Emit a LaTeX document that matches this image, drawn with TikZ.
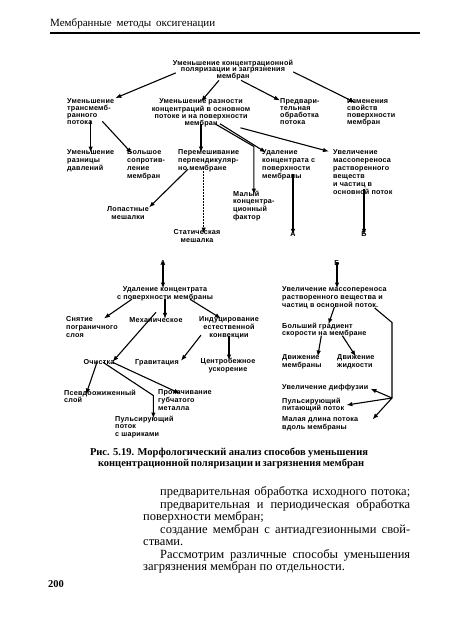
\documentclass[tikz,border=0pt]{standalone}
\usepackage{fontspec}
\setmainfont{Liberation Serif}
\newfontfamily\dfont[LetterSpace=3]{Liberation Sans Bold}
\usetikzlibrary{arrows.meta}
\begin{document}
\begin{tikzpicture}[x=1pt,y=-1pt,
  lbl/.style={inner sep=0pt, align=left, anchor=north west, font={\dfont\fontsize{7.2}{7.9}\selectfont}},
  lblc/.style={lbl, align=center, anchor=north},
  one/.style={lbl, align=center, anchor=base},
  tight/.style={font={\dfont\fontsize{7.2}{6.8}\selectfont}},
  arr/.style={line width=1.1pt, -{Latex[length=6pt,width=4.5pt]}},
  body/.style={inner sep=0pt, anchor=base west, font=\fontsize{12.5}{12.5}\selectfont},
  capt/.style={inner sep=0pt, anchor=base, font=\bfseries\fontsize{10.5}{11}\selectfont}]
\useasboundingbox (0,0) rectangle (450,626);
\fill[white] (0,0) rectangle (450,626);
% header
\node[body, font=\fontsize{11}{13}\selectfont] (hdr) at (50,27) {\makebox[165pt][s]{Мембранные методы оксигенации}};
\draw[line width=1.4pt] (50,33) -- (420,33);
% level 1
\node[lblc, tight] (top) at (233,59.5) {Уменьшение концентрационной\\поляризации и загрязнения\\мембран};
% level 2
\node[lbl, tight] (r2a) at (67,98.5) {Уменьшение\\трансмемб-\\ранного\\потока};
\node[lblc, tight] (r2b) at (201,98.5) {Уменьшение разности\\концентраций в основном\\потоке и на поверхности\\мембран};
\node[lbl, tight] (r2c) at (280,98.5) {Предвари-\\тельная\\обработка\\потока};
\node[lbl, tight] (r2d) at (347,98.5) {Изменения\\свойств\\поверхности\\мембран};
% level 3
\node[lbl] (r3a) at (67,149.5) {Уменьшение\\разницы\\давлений};
\node[lbl] (r3b) at (127,149.5) {Большое\\сопротив-\\ление\\мембран};
\node[lbl] (r3c) at (178,149.5) {Перемешивание\\перпендикуляр-\\но мембране};
\node[lbl] (r3d) at (262,149.5) {Удаление\\концентрата с\\поверхности\\мембраны};
\node[lbl] (r3e) at (333,149.5) {Увеличение\\массопереноса\\растворенного\\веществ\\и частиц в\\основной поток};
\node[lbl] (small) at (233,190.5) {Малый\\концентра-\\ционный\\фактор};
\node[lblc] (lop) at (128,206.5) {Лопастные\\мешалки};
\node[lblc] (stat) at (197,229.5) {Статическая\\мешалка};
\node[one] (A1) at (293,236) {А};
\node[one] (B1) at (364,236) {Б};
% lower left
\node[one] (A2) at (163,265) {А};
\node[lblc] (ud) at (165,286.5) {Удаление концентрата\\с поверхности мембраны};
\node[lbl] (snat) at (66,316.5) {Снятие\\пограничного\\слоя};
\node[one] (mech) at (156,322) {Механическое};
\node[lblc] (ind) at (229,316.5) {Индуцирование\\естественной\\конвекции};
\node[one] (och) at (99,364) {Очистка};
\node[one] (grav) at (157,364) {Гравитация};
\node[lblc] (centr) at (228,358.5) {Центробежное\\ускорение};
\node[lbl] (psev) at (64,389.5) {Псевдоожиженный\\слой};
\node[lbl] (prok) at (158,389.5) {Прокачивание\\губчатого\\металла};
\node[lbl] (puls) at (115,415.5) {Пульсирующий\\поток\\с шариками};
% lower right
\node[one] (B2) at (337,265) {Б};
\node[lbl] (uvm) at (282,286.5) {Увеличение массопереноса\\растворенного вещества и\\частиц в основной поток.};
\node[lbl] (bg) at (282,322.5) {Больший градиент\\скорости на мембране};
\node[lbl] (dm) at (282,354.5) {Движение\\мембраны};
\node[lbl] (dz) at (337,354.5) {Движение\\жидкости};
\node[one, anchor=base west] (udif) at (282,389) {Увеличение диффузии};
\node[lbl] (pp) at (282,397.5) {Пульсирующий\\питающий поток};
\node[lbl] (ml) at (282,416.5) {Малая длина потока\\вдоль мембраны};
\coordinate (hub) at (392,398);
% connectors level 1 -> 2
\draw[arr, shorten >=1pt] ([xshift=3pt,yshift=-3pt]top.west) -- (r2a.north east);
\draw[arr] ([xshift=-14pt]top.south) -- ([yshift=-3pt]r2b.north);
\draw[arr] ([xshift=8pt]top.south) -- ([yshift=-2pt]r2c.north west);
\draw[arr] ([yshift=-2pt]top.east) -- ([xshift=8pt,yshift=-4pt]r2d.north west);
% level 2 -> 3
\draw[arr] ([yshift=3pt]r2a.south) -- ([yshift=-3pt]r2a.south |- r3a.north);
\draw[arr] ([xshift=-12pt,yshift=3pt]r2a.south east) -- ([xshift=5pt,yshift=-4pt]r3b.north west);
\draw[arr] ([yshift=3pt]r2b.south) -- ([yshift=-3pt]r2b.south |- r3c.north);
\draw[arr] ([xshift=14pt,yshift=3pt]r2b.south) -- ([yshift=3pt]small.north |- r3c.north) -- ([yshift=-4pt]small.north);
\draw[arr] ([xshift=19pt,yshift=3pt]r2b.south) -- ([xshift=4pt,yshift=-3pt]r3d.north west);
\draw[arr] ([xshift=-10pt,yshift=-1pt]r2b.south east) -- ([xshift=-4pt,yshift=-2pt]r3e.north west);
% level 3 -> 4
\draw[arr] ([xshift=10pt,yshift=3pt]r3c.south west) -- ([yshift=-1pt]lop.north east);
\draw[arr, dash pattern=on 2pt off 1pt] ([xshift=-5pt,yshift=4pt]r3c.south) -- ([xshift=-5pt,yshift=-4pt]r3c.south |- stat.north);
\draw[arr] ([yshift=6pt]A1.north |- r3d.south) -- ([yshift=-4pt]A1.north);
\draw[arr] ([yshift=5pt]B1.north |- r3e.south) -- ([yshift=-4pt]B1.north);
% lower left
\draw[arr] ([yshift=3pt]A2.south) -- ([yshift=-2pt]A2.south |- ud.north);
\draw[arr] ([xshift=15pt,yshift=2pt]ud.south west) -- ([xshift=-14pt,yshift=-2pt]snat.north east);
\draw[arr] ([yshift=2pt]ud.south) -- ([yshift=-2pt]ud.south |- mech.north);
\draw[arr] ([xshift=25pt,yshift=2pt]ud.south) -- ([xshift=-8pt,yshift=-2pt]ind.north);
\draw[arr] ([yshift=10pt]mech.south) -- ([xshift=-2pt,yshift=-3pt]och.north east);
\draw[arr] ([xshift=2pt,yshift=4pt]ind.south west) -- ([xshift=2pt,yshift=-2pt]grav.north east);
\draw[arr] ([yshift=3pt]ind.south) -- ([yshift=-2pt]ind.south |- centr.north);
\draw[arr] ([xshift=-2pt,yshift=2pt]och.south) -- ([xshift=22pt,yshift=-5pt]psev.north west);
\draw[arr] ([xshift=4pt,yshift=2pt]och.south) -- ([xshift=9pt,yshift=-6pt]puls.north |- prok.north) -- ([xshift=9pt,yshift=-3pt]puls.north);
\draw[arr] ([xshift=-2pt,yshift=2pt]och.south east) -- ([xshift=22pt,yshift=-4pt]prok.north west);
% lower right
\draw[arr] ([yshift=3pt]B2.south) -- ([yshift=-2pt]B2.south |- uvm.north);
\draw[arr] ([yshift=2pt]uvm.south) -- ([xshift=4pt,yshift=-2pt]bg.north);
\draw[line width=1.1pt] ([xshift=-12pt,yshift=1pt]uvm.south east) -- (hub |- bg.north) -- (hub);
\draw[arr] (hub) -- ([xshift=2pt,yshift=2pt]udif.south east);
\draw[arr] (hub) -- ([xshift=2pt]pp.east);
\draw[arr] (hub) -- ([xshift=14pt,yshift=-3pt]ml.north east);
\draw[arr] ([xshift=-3pt,yshift=2pt]bg.south) -- ([xshift=-4pt,yshift=-2pt]dm.north east);
\draw[arr] ([xshift=18pt,yshift=2pt]bg.south) -- ([yshift=-2pt]dz.north);
% caption
\node[capt] (cap1) at (229,455) {\makebox[278pt][s]{Рис. 5.19. Морфологический анализ способов уменьшения}};
\node[capt] (cap2) at (229,466) {\makebox[262pt][s]{концентрационной поляризации и загрязнения мембран}};
% body text
\node[body] (p1) at (160,495.5) {\makebox[250pt][s]{предварительная обработка исходного потока;}};
\node[body] (p2) at (160,508) {\makebox[250pt][s]{предварительная и периодическая обработка}};
\node[body] (p3) at (143,520.5) {поверхности мембран;};
\node[body] (p4) at (160,533) {\makebox[250pt][s]{создание мембран с антиадгезионными свой-}};
\node[body] (p5) at (143,545.5) {ствами.};
\node[body] (p6) at (160,558) {\makebox[250pt][s]{Рассмотрим различные способы уменьшения}};
\node[body] (p7) at (143,570.5) {загрязнения мембран по отдельности.};
\node[body, font=\bfseries\fontsize{10.5}{12}\selectfont] (pg) at (48,587) {200};
\end{tikzpicture}
\end{document}
